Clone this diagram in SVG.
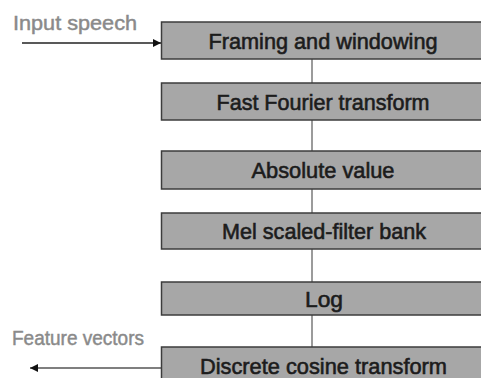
<svg xmlns="http://www.w3.org/2000/svg" width="481" height="378" viewBox="0 0 481 378">
<defs>
<style>
.box{fill:#a7a7a7;stroke:#3c3c3c;stroke-width:1.5}
.bt{font-family:"Liberation Sans",Arial,sans-serif;font-size:22px;fill:#1c1c1c;stroke:#1c1c1c;stroke-width:0.6;text-anchor:middle}
.lbl{font-family:"Liberation Sans",Arial,sans-serif;font-size:20px;fill:#8a8a8a;stroke:#8a8a8a;stroke-width:0.45}
.conn{stroke:#7a7a7a;stroke-width:1.5;fill:none}
.arr{stroke:#222;stroke-width:1.5;fill:none}
</style>
<marker id="ah" viewBox="0 0 10 10" refX="10" refY="5" markerWidth="8" markerHeight="8" orient="auto-start-reverse" markerUnits="userSpaceOnUse">
<path d="M0,0 L10,5 L0,10 z" fill="#111"/>
</marker>
</defs>
<rect width="481" height="378" fill="#fff"/>
<g id="connectors">
<line class="conn" x1="312" y1="59" x2="312" y2="83"/>
<line class="conn" x1="312" y1="120" x2="312" y2="151"/>
<line class="conn" x1="312" y1="189" x2="312" y2="213"/>
<line class="conn" x1="312" y1="249" x2="312" y2="282"/>
<line class="conn" x1="312" y1="315" x2="312" y2="347"/>
<line class="arr" x1="22" y1="43" x2="161" y2="43" marker-end="url(#ah)"/>
<line class="arr" x1="161" y1="368" x2="30" y2="368" marker-end="url(#ah)" style="stroke:#555"/>
</g>
<g id="label-input">
<text class="lbl" x="13" y="30" textLength="124" lengthAdjust="spacingAndGlyphs">Input speech</text>
</g>
<g id="label-output">
<text class="lbl" x="12" y="345" font-size="19" textLength="132" lengthAdjust="spacingAndGlyphs">Feature vectors</text>
</g>
<g id="framing">
<rect class="box" x="161.5" y="22" width="340" height="37"/>
<text class="bt" x="323" y="48.5" textLength="229" lengthAdjust="spacingAndGlyphs">Framing and windowing</text>
</g>
<g id="fft">
<rect class="box" x="161.5" y="83" width="340" height="37"/>
<text class="bt" x="323" y="109.5" textLength="213" lengthAdjust="spacingAndGlyphs">Fast Fourier transform</text>
</g>
<g id="abs">
<rect class="box" x="161.5" y="151" width="340" height="38"/>
<text class="bt" x="323" y="178" textLength="143" lengthAdjust="spacingAndGlyphs">Absolute value</text>
</g>
<g id="mel">
<rect class="box" x="161.5" y="213" width="340" height="36"/>
<text class="bt" x="324" y="239" textLength="204" lengthAdjust="spacingAndGlyphs">Mel scaled-filter bank</text>
</g>
<g id="log">
<rect class="box" x="161.5" y="282" width="340" height="33"/>
<text class="bt" x="324" y="306.5" textLength="38" lengthAdjust="spacingAndGlyphs">Log</text>
</g>
<g id="dct">
<rect class="box" x="161.5" y="347" width="340" height="38"/>
<text class="bt" x="323.5" y="374" textLength="247" lengthAdjust="spacingAndGlyphs">Discrete cosine transform</text>
</g>
</svg>
